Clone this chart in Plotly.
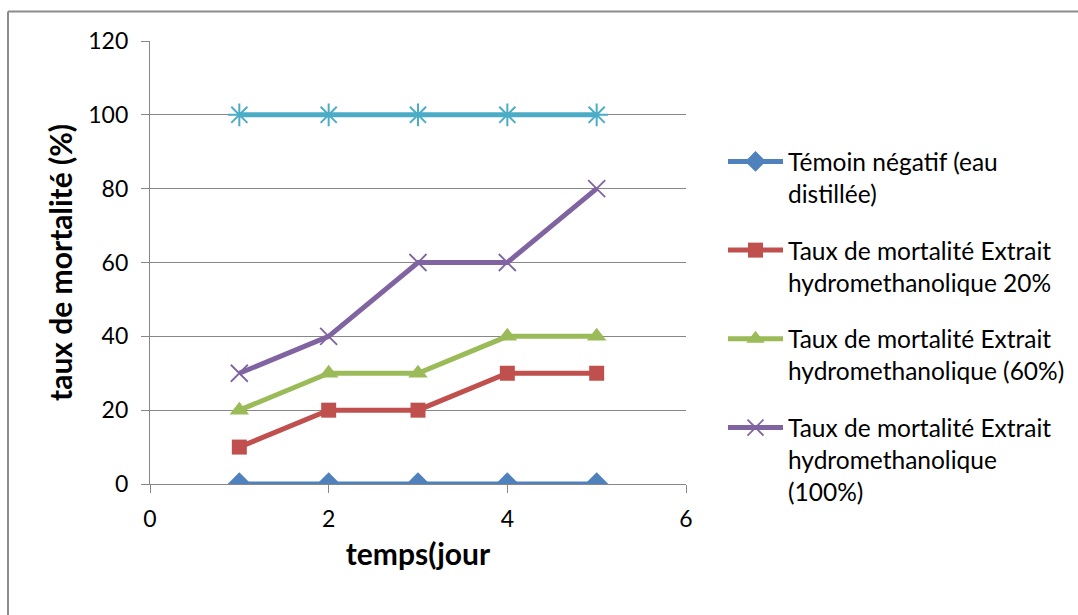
import plotly.graph_objects as go

days = [1, 2, 3, 4, 5]
temoin = [0, 0, 0, 0, 0]
ext20 = [10, 20, 20, 30, 30]
ext60 = [20, 30, 30, 40, 40]
ext100 = [30, 40, 60, 60, 80]
cyan100 = [100, 100, 100, 100, 100]

names = [
    "Témoin négatif (eau<br>distillée)",
    "Taux de mortalité Extrait<br>hydromethanolique 20%",
    "Taux de mortalité Extrait<br>hydromethanolique (60%)",
    "Taux de mortalité Extrait<br>hydromethanolique<br>(100%)",
]

x_ticks = [0, 2, 4, 6]
y_ticks = [0, 20, 40, 60, 80, 100, 120]

FONT = "Lato"
W, H = 1078, 615
L, R, T, B = 150, 686, 41, 484

fig = go.Figure()

fig.add_trace(go.Scatter(x=days, y=cyan100, mode="lines+markers", showlegend=False,
                         line=dict(color="#4BACC6", width=5),
                         marker=dict(symbol="asterisk-open", size=19, color="#4BACC6",
                                     line=dict(color="#4BACC6", width=2))))
fig.add_trace(go.Scatter(x=days, y=temoin, mode="lines+markers", name=names[0], legendgroup="g1",
                         line=dict(color="#4F81BD", width=5),
                         marker=dict(symbol="diamond", size=18, color="#4F81BD")))
fig.add_trace(go.Scatter(x=days, y=ext20, mode="lines+markers", name=names[1], legendgroup="g2",
                         line=dict(color="#C0504D", width=5),
                         marker=dict(symbol="square", size=15, color="#C0504D")))
fig.add_trace(go.Scatter(x=days, y=ext60, mode="lines+markers", name=names[2], legendgroup="g3",
                         line=dict(color="#9BBB59", width=5),
                         marker=dict(symbol="triangle-up", size=17, color="#9BBB59")))
fig.add_trace(go.Scatter(x=days, y=ext100, mode="lines+markers", name=names[3], legendgroup="g4",
                         line=dict(color="#8064A2", width=5),
                         marker=dict(symbol="x-thin-open", size=17, color="#8064A2",
                                     line=dict(color="#8064A2", width=1.8))))

pw, ph = R - L, B - T
def px_x(p):
    return (p - L) / pw
def px_y(p):
    return (B - p) / ph

fig.update_layout(
    width=W, height=H,
    margin=dict(l=L, r=W - R, t=T, b=H - B, autoexpand=False),
    paper_bgcolor="white", plot_bgcolor="white",
    font=dict(family=FONT, size=23, color="black"),
    xaxis=dict(range=[0, 6], tickvals=x_ticks, showgrid=False, zeroline=False,
               showline=True, linecolor="#878787", linewidth=1.3,
               ticks="outside", ticklen=8, tickcolor="#878787", tickwidth=1.3,
               ticklabelstandoff=6,
               tickfont=dict(size=23),
               title=dict(text="<b>temps(jour</b>", font=dict(size=30), standoff=13)),
    yaxis=dict(range=[0, 120], tickvals=y_ticks, showgrid=True, gridcolor="#878787", gridwidth=1.3,
               zeroline=False, showline=True, linecolor="#878787", linewidth=1.3,
               ticks="outside", ticklen=8, tickcolor="#878787", tickwidth=1.3,
               ticklabelstandoff=8,
               tickfont=dict(size=23),
               title=dict(text="<b>taux de mortalité (%)</b>", font=dict(size=30), standoff=6)),
    legend=dict(x=px_x(723), y=px_y(139), xanchor="left", yanchor="top",
                font=dict(size=24.5), valign="top", itemwidth=55,
                bgcolor="rgba(0,0,0,0)", tracegroupgap=22),
    shapes=[
        dict(type="line", xref="paper", yref="paper", x0=px_x(8), x1=px_x(1100),
             y0=px_y(11.5), y1=px_y(11.5), line=dict(color="#8c8c8c", width=2)),
        dict(type="line", xref="paper", yref="paper", x0=px_x(8), x1=px_x(8),
             y0=px_y(11.5), y1=px_y(640), line=dict(color="#8c8c8c", width=2)),
    ],
)

fig.write_html("out.html")
